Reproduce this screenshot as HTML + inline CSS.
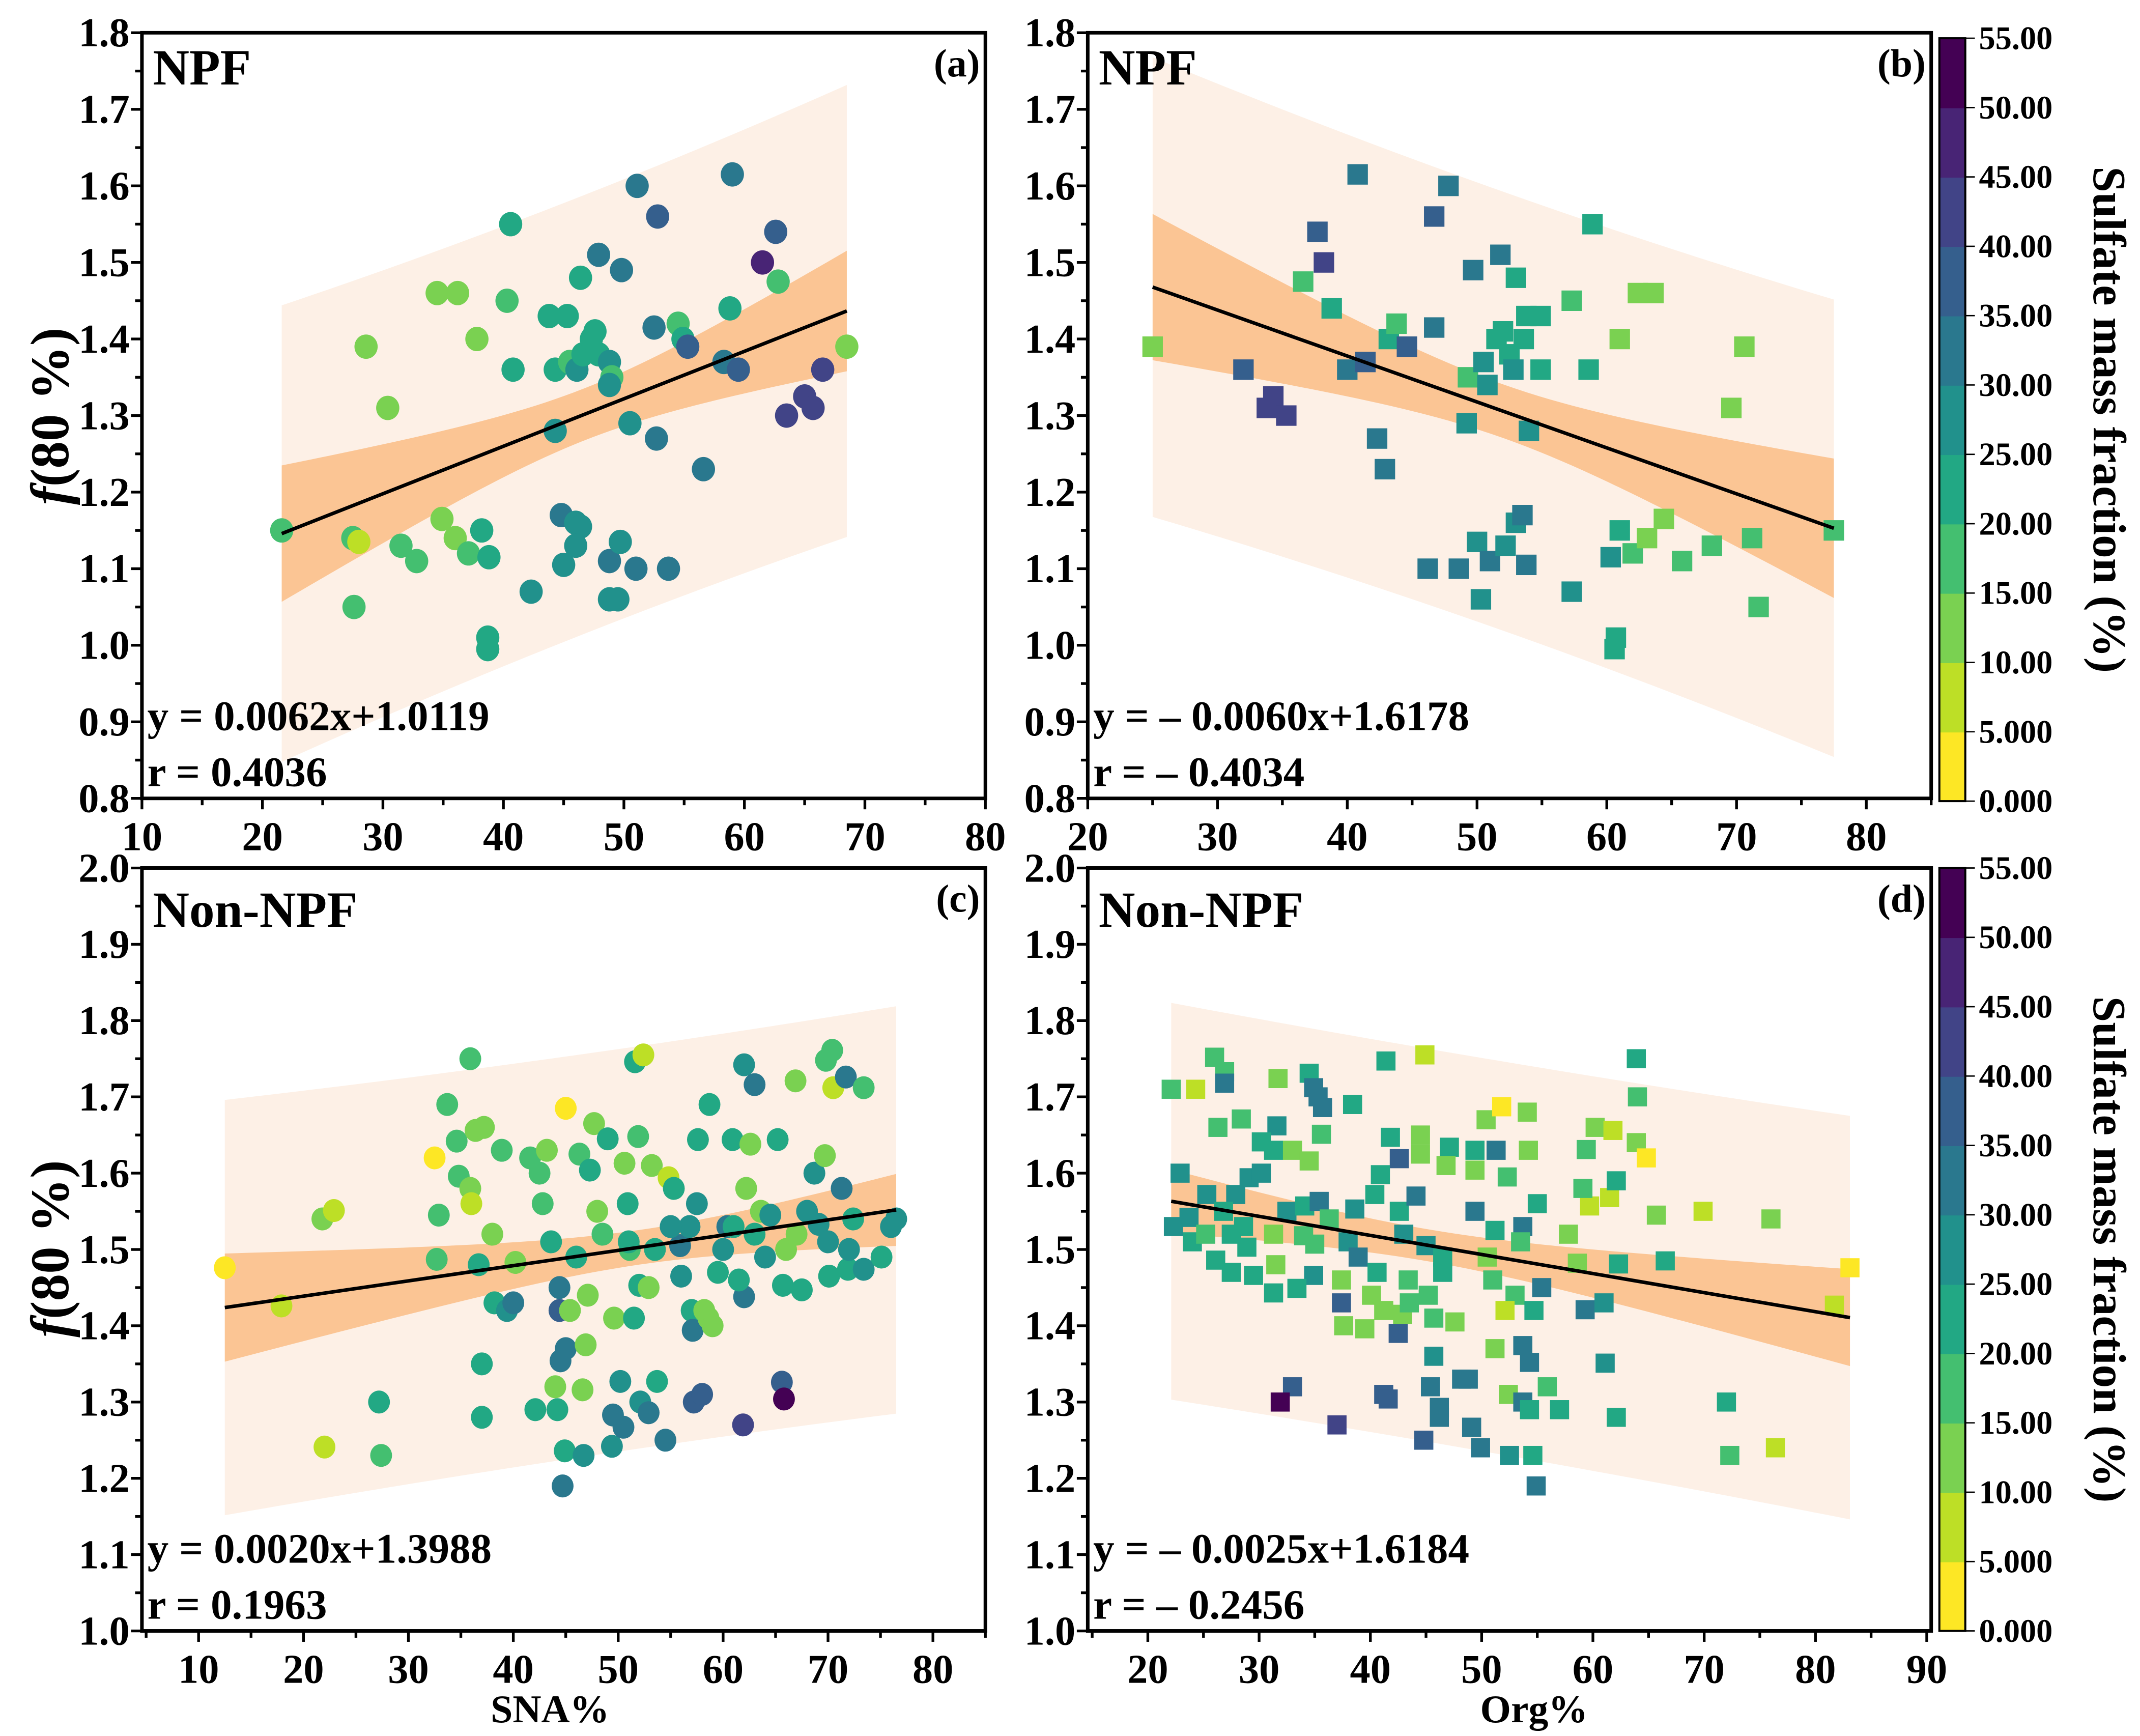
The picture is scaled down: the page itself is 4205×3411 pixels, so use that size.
<!DOCTYPE html>
<html><head><meta charset="utf-8">
<style>
html,body{margin:0;padding:0;background:#fff;}
svg{display:block;}
text{font-family:"Liberation Serif",serif;font-weight:bold;fill:#000;}
</style></head>
<body>
<svg id="fig" width="4205" height="3411" viewBox="0 0 1568 1272" preserveAspectRatio="none" xmlns="http://www.w3.org/2000/svg">
<rect x="0" y="0" width="1568" height="1272" fill="#fff"/>
</svg>
<script>
// ---- data: panel (a) NPF, SNA% ----
var aX=[21.6,27.5,28,27.6,28.6,30.4,31.5,32.8,34.5,36.2,34.9,36,37.1,38.2,38.8,37.8,40.3,40.6,40.8,38.7,38.7,42.3,43.8,45.3,44.3,45.5,44.3,44.8,46,46.4,46,45,46.4,46.1,46.6,47.3,47.6,47.9,47.9,49.8,48.8,49,48.8,48.8,49.7,51,48.8,49.5,51.1,50.5,52.8,52.5,52.7,54.5,54.9,55.3,53.7,56.6,58.3,59.5,58.8,59,61.5,62.6,62.8,63.5,65,65.7,66.5,68.5];
var aY=[1.15,1.14,1.135,1.05,1.39,1.31,1.13,1.11,1.46,1.46,1.165,1.14,1.12,1.15,1.115,1.40,1.45,1.55,1.36,1.01,0.995,1.07,1.43,1.43,1.36,1.37,1.28,1.17,1.16,1.155,1.13,1.105,1.48,1.36,1.38,1.40,1.41,1.38,1.51,1.49,1.37,1.35,1.34,1.11,1.135,1.10,1.06,1.06,1.60,1.29,1.56,1.415,1.27,1.42,1.40,1.39,1.10,1.23,1.37,1.36,1.44,1.615,1.50,1.54,1.475,1.30,1.325,1.31,1.36,1.39];
var aS=[18,18,8,18,12,12,18,18,12,12,12,12,15,20,20,12,18,22,22,20,20,27,22,22,22,15,27,30,27,27,27,27,20,25,22,22,22,22,32,30,27,15,27,30,27,30,27,27,30,27,37,33,30,18,22,35,30,30,32,35,22,30,45,37,18,42,42,42,42,12];
// ---- data: panel (b) NPF, Org% ----
var bX=[25,32,33.8,34.3,35.3,36.6,37.7,38.2,38.8,40,40.8,41.4,42.3,42.9,43.2,43.8,44.6,46.2,46.7,46.7,47.8,48.6,49.2,49.3,49.7,50,50.3,50.5,50.8,51,51.5,51.8,52,52.2,52.5,52.8,53,53,53.5,53.6,53.8,54,53.8,54.9,54.9,57.3,57.3,58.6,58.9,60.3,60.7,60.6,61,61,62,62.4,63.1,63.6,64.4,65.8,68.1,69.6,70.6,71.2,71.7,77.5];
var bY=[1.39,1.36,1.31,1.325,1.30,1.475,1.54,1.50,1.44,1.36,1.615,1.37,1.27,1.23,1.40,1.42,1.39,1.10,1.415,1.56,1.60,1.10,1.29,1.35,1.49,1.135,1.06,1.37,1.34,1.11,1.40,1.51,1.41,1.13,1.38,1.36,1.48,1.16,1.17,1.40,1.43,1.28,1.105,1.43,1.36,1.07,1.45,1.36,1.55,1.115,1.01,0.995,1.40,1.15,1.12,1.46,1.14,1.46,1.165,1.11,1.13,1.31,1.39,1.14,1.05,1.15];
var bS=[12,35,42,42,42,18,37,42,22,32,30,35,30,30,22,18,35,30,33,37,30,30,27,15,30,27,27,27,27,30,22,32,22,27,22,27,22,27,30,22,22,27,30,22,22,27,18,22,22,27,20,20,12,20,15,12,12,12,12,15,15,12,12,15,15,18];
// ---- data: panel (c) Non-NPF, SNA% ----
var cX=[12.5,17.9,22.0,21.8,22.9,27.2,27.4,32.5,32.9,32.7,33.7,34.6,35.9,34.8,35.9,36.0,36.4,37.2,36.7,37.0,37.0,38.0,38.2,39.4,38.9,40.2,41.6,42.1,42.8,43.2,43.6,44.2,44.0,45.0,44.4,44.4,44.5,45.0,44.9,44.7,45.4,46.3,46.7,46.6,46.9,47.1,47.3,47.7,48.0,49.0,49.4,49.5,49.6,50.2,50.5,50.6,50.9,51.1,51.5,51.6,52.4,51.9,52.0,52.1,52.9,52.9,53.2,53.7,54.8,54.5,55.3,55.9,56.0,56.8,57.0,57.1,57.6,58.2,58.6,59.0,57.2,58.0,58.7,60.4,61.0,60.9,62.0,62.2,62.6,61.9,62.0,63.0,63.6,64.5,65.2,65.6,65.8,65.7,66.9,67.5,68.7,69.1,69.7,69.8,70.4,70.1,70.5,71.3,71.9,71.7,72.4,73.4,73.4,75.1,76.0,76.5,51.0,53.5,55.0,60.0,63.0,66.0,67.0,68.0,70.0,72.0,48.5,46.0,57.5,59.5,61.5,64.0,42.5,40.0];
var cY=[1.476,1.426,1.241,1.54,1.551,1.30,1.23,1.62,1.545,1.487,1.69,1.642,1.75,1.596,1.58,1.56,1.656,1.66,1.48,1.35,1.28,1.52,1.43,1.42,1.63,1.483,1.62,1.29,1.56,1.63,1.51,1.29,1.32,1.685,1.45,1.42,1.354,1.37,1.236,1.19,1.42,1.625,1.23,1.316,1.375,1.44,1.604,1.665,1.55,1.645,1.242,1.283,1.41,1.327,1.267,1.613,1.56,1.50,1.41,1.746,1.755,1.648,1.453,1.30,1.286,1.45,1.61,1.327,1.594,1.25,1.58,1.505,1.465,1.53,1.42,1.394,1.644,1.42,1.41,1.40,1.30,1.31,1.69,1.53,1.53,1.644,1.742,1.58,1.638,1.27,1.438,1.716,1.55,1.545,1.644,1.326,1.304,1.453,1.721,1.447,1.60,1.533,1.623,1.748,1.761,1.465,1.712,1.58,1.474,1.726,1.54,1.712,1.474,1.49,1.53,1.54,1.51,1.50,1.53,1.50,1.52,1.50,1.52,1.55,1.51,1.50,1.52,1.49,1.56,1.47,1.46,1.49,1.60,1.43];
var cS=[2,8,8,12,8,22,18,2,18,18,18,15,18,18,12,8,12,12,22,22,22,12,20,27,18,12,15,20,18,12,20,20,12,2,30,35,30,30,22,30,12,18,25,12,12,12,22,12,12,20,27,30,12,25,30,12,20,18,22,22,8,15,20,25,30,12,12,22,8,30,22,30,27,27,22,30,20,12,12,12,35,35,20,30,20,20,25,12,12,40,33,30,12,25,20,38,52,22,12,22,25,27,12,18,18,22,8,30,22,30,20,18,25,22,27,27,22,20,27,27,22,12,12,27,25,27,18,22,27,20,20,27,15,30];
// ---- data: panel (d) Non-NPF, Org% ----
var dX=[22.1,24.3,26.0,26.9,26.9,31.7,34.5,34.9,35.3,35.7,41.4,44.9,38.4,26.3,28.4,31.6,35.6,30.2,31.3,33.0,34.5,41.8,42.6,44.5,44.5,47.1,49.4,51.3,46.8,49.4,50.4,51.8,54.1,54.2,52.3,59.4,60.2,61.8,63.9,64.8,63.9,64.0,22.9,25.3,27.9,29.1,30.2,23.7,22.3,24.0,25.2,26.8,27.5,28.6,28.9,26.1,27.5,29.5,31.3,31.3,31.5,32.5,34.1,35.4,36.3,34.0,35.0,34.9,33.4,37.4,37.4,38.6,40.4,42.6,44.1,40.9,38.0,38.9,40.6,43.4,45.2,43.0,45.0,46.5,46.5,37.6,39.5,40.1,41.2,42.9,43.5,42.5,45.7,47.6,49.4,51.2,53.7,55.0,50.5,53.5,57.8,51.0,53.0,52.1,54.7,55.4,58.6,62.3,66.5,59.3,61.0,59.7,61.5,62.1,59.1,65.7,69.9,76.0,83.1,81.7,51.2,45.7,53.7,54.3,61.1,33.0,31.9,41.2,41.6,45.4,48.2,48.8,52.4,53.7,54.3,55.9,57.0,46.2,46.2,37.0,44.8,49.1,49.9,52.5,54.6,54.9,62.1,72.0,72.3,76.4];
var dY=[1.71,1.71,1.752,1.733,1.718,1.724,1.731,1.712,1.70,1.686,1.747,1.755,1.69,1.66,1.671,1.662,1.651,1.641,1.63,1.63,1.616,1.647,1.619,1.65,1.625,1.634,1.63,1.63,1.61,1.604,1.67,1.687,1.68,1.63,1.595,1.631,1.66,1.656,1.64,1.62,1.75,1.70,1.60,1.572,1.572,1.594,1.60,1.542,1.53,1.51,1.52,1.55,1.52,1.53,1.503,1.486,1.47,1.466,1.443,1.52,1.48,1.55,1.557,1.563,1.54,1.518,1.507,1.466,1.449,1.46,1.43,1.553,1.572,1.55,1.57,1.598,1.51,1.49,1.47,1.46,1.44,1.52,1.505,1.49,1.47,1.40,1.396,1.44,1.42,1.415,1.43,1.39,1.41,1.405,1.55,1.525,1.53,1.56,1.49,1.51,1.52,1.46,1.44,1.42,1.42,1.45,1.482,1.481,1.485,1.421,1.43,1.557,1.568,1.59,1.58,1.545,1.55,1.54,1.476,1.427,1.37,1.36,1.374,1.352,1.351,1.32,1.30,1.31,1.304,1.32,1.33,1.33,1.31,1.30,1.29,1.32,1.29,1.293,1.28,1.27,1.25,1.267,1.24,1.23,1.23,1.19,1.28,1.30,1.23,1.24];
var dS=[18,8,18,18,30,12,20,30,30,33,22,8,22,18,18,25,15,20,20,12,12,22,35,12,12,20,22,30,12,12,12,2,12,12,18,18,12,8,12,2,20,18,27,27,25,27,27,25,27,22,15,20,22,22,22,22,22,22,22,12,12,25,22,33,18,18,15,25,22,12,35,27,22,22,30,20,27,33,22,18,15,25,25,22,22,12,12,12,12,12,18,35,18,12,30,20,30,20,12,15,12,18,15,8,22,30,12,20,20,30,25,8,8,20,18,12,8,12,2,8,12,27,30,30,25,38,52,38,38,33,33,33,12,30,22,18,22,30,30,42,37,33,30,27,22,30,22,22,18,8];
// ---- fit parameters (printed equations) ----
var fitSlopes=[0.0062,-0.0060,0.0020,-0.0025];
var fitIntercepts=[1.0119,1.6178,1.3988,1.6184];
var colorTicks=["0.000","5.000","10.00","15.00","20.00","25.00","30.00","35.00","40.00","45.00","50.00","55.00"];
var viridisBins=["#fde725","#bddf26","#7ad151","#44bf70","#22a884","#21918c","#2a788e","#355f8d","#414487","#482475","#440154"];

var NS="http://www.w3.org/2000/svg";
var svg=document.getElementById('fig');
function mk(tag,attrs,parent,txt){var e=document.createElementNS(NS,tag);for(var k in attrs)e.setAttribute(k,attrs[k]);if(txt!==undefined)e.textContent=txt;(parent||svg).appendChild(e);return e;}
function colorOf(v){var i=Math.floor(v/5);if(i<0)i=0;if(i>10)i=10;return viridisBins[i];}

var panels=[
 {id:'a',X:aX,Y:aY,S:aS,L:104,R:722,T:24,B:585,x0:10,x1:80,y0:0.8,y1:1.8,xt:[10,20,30,40,50,60,70,80],yt:[0.8,0.9,1.0,1.1,1.2,1.3,1.4,1.5,1.6,1.7,1.8],sq:false,ms:8.5,title:'NPF',tag:'(a)',eq:'y = 0.0062x+1.0119',r:'r = 0.4036'},
 {id:'b',X:bX,Y:bY,S:bS,L:797,R:1415,T:24,B:585,x0:20,x1:85,y0:0.8,y1:1.8,xt:[20,30,40,50,60,70,80],yt:[0.8,0.9,1.0,1.1,1.2,1.3,1.4,1.5,1.6,1.7,1.8],sq:true,ms:15,title:'NPF',tag:'(b)',eq:'y =  \u2013 0.0060x+1.6178',r:'r =  \u2013 0.4034'},
 {id:'c',X:cX,Y:cY,S:cS,L:104,R:722,T:636,B:1195,x0:4.6,x1:85,y0:1.0,y1:2.0,xt:[10,20,30,40,50,60,70,80],yt:[1.0,1.1,1.2,1.3,1.4,1.5,1.6,1.7,1.8,1.9,2.0],sq:false,ms:8,title:'Non-NPF',tag:'(c)',eq:'y = 0.0020x+1.3988',r:'r = 0.1963'},
 {id:'d',X:dX,Y:dY,S:dS,L:797,R:1415,T:636,B:1195,x0:14.6,x1:90.4,y0:1.0,y1:2.0,xt:[20,30,40,50,60,70,80,90],yt:[1.0,1.1,1.2,1.3,1.4,1.5,1.6,1.7,1.8,1.9,2.0],sq:true,ms:14,title:'Non-NPF',tag:'(d)',eq:'y =  \u2013 0.0025x+1.6184',r:'r =  \u2013 0.2456'}
];

panels.forEach(function(p,pi){
  var g=mk('g',{});
  
  
  var sx=function(v){return p.L+(v-p.x0)/(p.x1-p.x0)*(p.R-p.L);};
  var sy=function(v){return p.B-(v-p.y0)/(p.y1-p.y0)*(p.B-p.T);};
  var clip=mk('clipPath',{id:'clip'+p.id},g);
  mk('rect',{x:p.L,y:p.T,width:p.R-p.L,height:p.B-p.T},clip);
  var m=fitSlopes[pi],c=fitIntercepts[pi];
  var n=Math.min(p.X.length,p.Y.length,p.S.length);
  var mx=0;for(var i=0;i<n;i++)mx+=p.X[i];mx/=n;
  var sxx=0,sse=0,xmin=1e9,xmax=-1e9;
  for(i=0;i<n;i++){sxx+=(p.X[i]-mx)*(p.X[i]-mx);var rr=p.Y[i]-(m*p.X[i]+c);sse+=rr*rr;xmin=Math.min(xmin,p.X[i]);xmax=Math.max(xmax,p.X[i]);}
  var s=Math.sqrt(sse/(n-2)),t=1.92;
  function band(pred){var up=[],lo=[];for(var k=0;k<=60;k++){var x=xmin+(xmax-xmin)*k/60;var yh=m*x+c;var w=t*s*Math.sqrt((pred?1:0)+1/n+(x-mx)*(x-mx)/sxx);up.push(sx(x).toFixed(2)+','+sy(yh+w).toFixed(2));lo.unshift(sx(x).toFixed(2)+','+sy(yh-w).toFixed(2));}return up.concat(lo).join(' ');}
  var pb=mk('polygon',{points:band(true),fill:'#fdf0e6','clip-path':'url(#clip'+p.id+')'},g);
  
  
  var cb=mk('polygon',{points:band(false),fill:'#fbc594','clip-path':'url(#clip'+p.id+')'},g);
  
  
  for(i=0;i<n;i++){
    var px=sx(p.X[i]),py=sy(p.Y[i]),col=colorOf(p.S[i]),el;
    if(p.sq){el=mk('rect',{x:px-p.ms/2,y:py-p.ms/2,width:p.ms,height:p.ms,fill:col},g);}
    else{el=mk('ellipse',{cx:px,cy:py,rx:p.ms,ry:p.ms*1.05,fill:col},g);}
    
    
  }
  var fl=mk('line',{x1:sx(xmin),y1:sy(m*xmin+c),x2:sx(xmax),y2:sy(m*xmax+c),stroke:'#000','stroke-width':2.6},g);
  
  
  var fr=mk('rect',{x:p.L,y:p.T,width:p.R-p.L,height:p.B-p.T,fill:'none',stroke:'#000','stroke-width':2.6},g);
  
  
  var step=5;
  for(var v=Math.ceil(p.x0/step)*step;v<=p.x1+1e-6;v+=step){
    var major=(v%10===0);
    mk('line',{x1:sx(v),y1:p.B,x2:sx(v),y2:p.B+(major?8:5),stroke:'#000','stroke-width':2},g);
  }
  p.xt.forEach(function(v){var tl=mk('text',{x:sx(v),y:p.B+38,'text-anchor':'middle','font-size':30},g,String(v));
    
    });
  for(v=p.y0;v<=p.y1+1e-6;v+=0.05){
    var mj=Math.abs(Math.round(v*10)-v*10)<1e-6;
    mk('line',{x1:p.L,y1:sy(v),x2:p.L-(mj?8:5),y2:sy(v),stroke:'#000','stroke-width':2},g);
  }
  p.yt.forEach(function(v){var tl=mk('text',{x:p.L-9,y:sy(v)+10,'text-anchor':'end','font-size':30},g,v.toFixed(1));
    
    });
  var tt=mk('text',{x:p.L+8,y:p.T+(p.title==='NPF'?38:43),'font-size':p.title==='NPF'?37:37},g,p.title);
  
  
  var tg=mk('text',{x:p.R-4,y:p.T+32,'text-anchor':'end','font-size':29},g,p.tag);
  
  
  var eq=mk('text',{x:p.L+4,y:p.B-50,'font-size':31,'xml:space':'preserve'},g,p.eq);
  
  
  var rt=mk('text',{x:p.L+4,y:p.B-9,'font-size':31,'xml:space':'preserve'},g,p.r);
  
  
});

[305,915].forEach(function(cy,i){
  var t=mk('text',{transform:'translate(50,'+cy+') rotate(-90)','text-anchor':'middle','font-size':40});
  
  
  mk('tspan',{'font-style':'italic'},t,'f');
  mk('tspan',{},t,'(80 %)');
});
var xt1=mk('text',{x:403,y:1262,'text-anchor':'middle','font-size':29},svg,'SNA%');


var xt2=mk('text',{x:1124,y:1262,'text-anchor':'middle','font-size':29},svg,'Org%');



[[28,587],[636,1195]].forEach(function(r,ci){
  var g=mk('g',{});
  
  
  var top=r[0],bot=r[1],h=(bot-top)/11;
  for(var i=0;i<11;i++){
    mk('rect',{x:1421,y:bot-(i+1)*h,width:19,height:h+0.5,fill:viridisBins[i]},g);
  }
  mk('rect',{x:1421,y:top,width:19,height:bot-top,fill:'none',stroke:'#000','stroke-width':1.5},g);
  colorTicks.forEach(function(lbl,i){
    var y=bot-i*h;
    mk('line',{x1:1440,y1:y,x2:1447,y2:y,stroke:'#000','stroke-width':1},g);
    var t=mk('text',{x:1450,y:y+8,'font-size':24},g,lbl);
    
    
  });
  var ct=mk('text',{transform:'translate(1534,'+((top+bot)/2)+') rotate(90)','text-anchor':'middle','font-size':34},g,'Sulfate mass fraction (%)');
  
  
});
</script>
</body></html>
